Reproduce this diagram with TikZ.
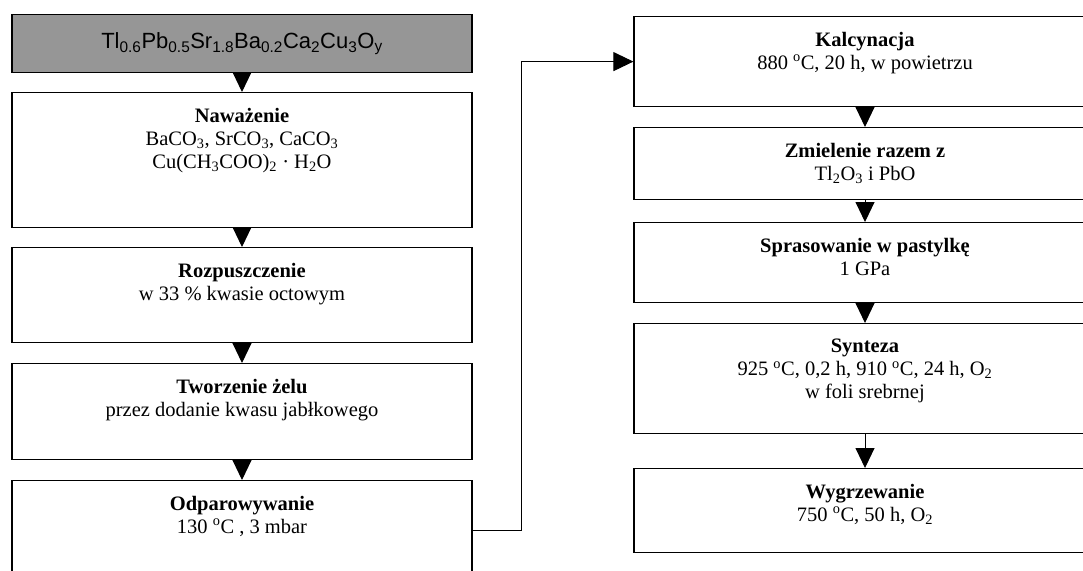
\documentclass[tikz,border=0pt]{standalone}
\usepackage{fontspec}
\setmainfont{Liberation Serif}
\newfontfamily\headfont{Liberation Sans}
\usetikzlibrary{arrows.meta, positioning}
\definecolor{headgray}{RGB}{150,150,150}

\begin{document}
\begin{tikzpicture}[
  x=1pt, y=-1pt,
  stepbox/.style={draw, line width=1.2pt, minimum width=460pt, inner sep=0pt, anchor=north},
  headbox/.style={stepbox, fill=headgray, font=\headfont\fontsize{22}{26}\selectfont},
  steptext/.style={align=center, inner sep=0pt, font=\fontsize{20.5}{23}\selectfont},
  arr/.style={-{Triangle[length=20pt, width=19pt]}, line width=1pt},
]
\path[use as bounding box, clip] (0,0) rectangle (1083,570);

% left column
\node[headbox, minimum height=58pt] (head) at (242,14)
  {Tl\textsubscript{0.6}Pb\textsubscript{0.5}Sr\textsubscript{1.8}Ba\textsubscript{0.2}Ca\textsubscript{2}Cu\textsubscript{3}O\textsubscript{y}};
\node[stepbox, minimum height=135pt] (nawaz) at (242,92) {};
\node[stepbox, minimum height=95pt]  (rozp)  at (242,247) {};
\node[stepbox, minimum height=96pt]  (tworz) at (242,363) {};
\node[stepbox, minimum height=100pt] (odpar) at (242,480) {};

\node[steptext, below=16pt of nawaz.north] (nawazt)
  {\textbf{Naważenie}\\ BaCO\textsubscript{3}, SrCO\textsubscript{3}, CaCO\textsubscript{3}\\ Cu(CH\textsubscript{3}COO)\textsubscript{2} · H\textsubscript{2}O};
\node[steptext, below=16pt of rozp.north] (rozpt)
  {\textbf{Rozpuszczenie}\\ w 33 \% kwasie octowym};
\node[steptext, below=16pt of tworz.north] (tworzt)
  {\textbf{Tworzenie żelu}\\ przez dodanie kwasu jabłkowego};
\node[steptext, below=16pt of odpar.north] (odpart)
  {\textbf{Odparowywanie}\\ 130 \textsuperscript{o}C , 3 mbar};

% right column
\node[stepbox, minimum width=462pt, minimum height=90pt]  (kalc)  at (865,16) {};
\node[stepbox, minimum width=462pt, minimum height=72pt]  (zmiel) at (865,127) {};
\node[stepbox, minimum width=462pt, minimum height=80pt]  (spras) at (865,222) {};
\node[stepbox, minimum width=462pt, minimum height=110pt] (synt)  at (865,323) {};
\node[stepbox, minimum width=462pt, minimum height=84pt]  (wygrz) at (865,468) {};

\node[steptext, below=16pt of kalc.north] (kalct)
  {\textbf{Kalcynacja}\\ 880 \textsuperscript{o}C, 20 h, w powietrzu};
\node[steptext, below=16pt of zmiel.north] (zmielt)
  {\textbf{Zmielenie razem z}\\ Tl\textsubscript{2}O\textsubscript{3} i PbO};
\node[steptext, below=16pt of spras.north] (sprast)
  {\textbf{Sprasowanie w pastylkę}\\ 1 GPa};
\node[steptext, below=16pt of synt.north] (syntt)
  {\textbf{Synteza}\\ 925 \textsuperscript{o}C, 0,2 h, 910 \textsuperscript{o}C, 24 h, O\textsubscript{2}\\ w foli srebrnej};
\node[steptext, below=16pt of wygrz.north] (wygrzt)
  {\textbf{Wygrzewanie}\\ 750 \textsuperscript{o}C, 50 h, O\textsubscript{2}};

% arrows
\draw[arr] (head.south)  -- (nawaz.north);
\draw[arr] (nawaz.south) -- (rozp.north);
\draw[arr] (rozp.south)  -- (tworz.north);
\draw[arr] (tworz.south) -- (odpar.north);
\draw[arr] (odpar.east) -- ++(49,0) |- (kalc.west);
\draw[arr] (kalc.south)  -- (zmiel.north);
\draw[arr] (zmiel.south) -- (spras.north);
\draw[arr] (spras.south) -- (synt.north);
\draw[arr] (synt.south)  -- (wygrz.north);
\end{tikzpicture}
\end{document}
